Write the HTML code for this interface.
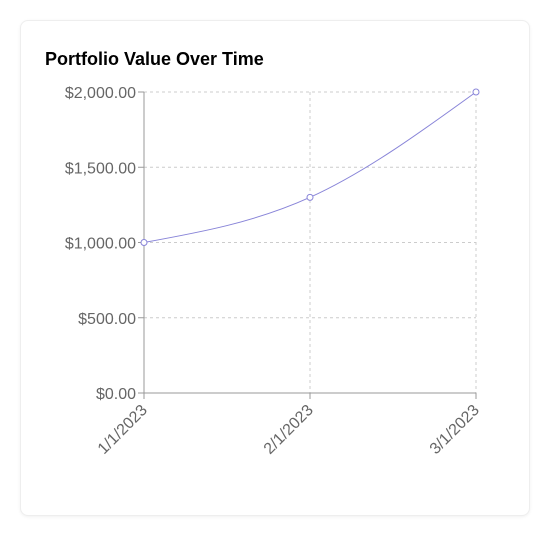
<!DOCTYPE html>
<html><head><meta charset="utf-8"><style>
html,body{margin:0;padding:0;background:#fff;width:550px;height:550px;overflow:hidden;font-family:"Liberation Sans",sans-serif}
.card{position:absolute;left:20px;top:20px;width:508px;height:494px;border:1px solid #eee;border-radius:8px;box-shadow:0 1px 3px rgba(0,0,0,0.06);background:#fff}
.title{position:absolute;left:24px;top:28px;font-size:18px;font-weight:bold;color:#000}
svg{position:absolute;left:0;top:0}
</style></head><body>
<div class="card"><div class="title">Portfolio Value Over Time</div></div>
<svg id="c" width="550" height="550"></svg>
<script>
const categories=["1/1/2023","2/1/2023","3/1/2023"];
const values=[1000,1300,2000];
const yTicks=[0,500,1000,1500,2000];
const svg=document.getElementById('c');const NS='http://www.w3.org/2000/svg';
const X0=144,X1=476,Y0=393,Y1=92,YMAX=2000;
const xs=i=>X0+(X1-X0)*i/(categories.length-1);
const ys=v=>Y0-(Y0-Y1)*v/YMAX;
function el(t,a,p){const e=document.createElementNS(NS,t);for(const k in a)e.setAttribute(k,a[k]);(p||svg).appendChild(e);return e;}
const fmt=v=>'$'+v.toLocaleString('en-US',{minimumFractionDigits:2,maximumFractionDigits:2});
yTicks.forEach(v=>{const y=ys(v);
 if(v>0){const g=el('line',{x1:X0,x2:X1,y1:y,y2:y,stroke:'#ccc','stroke-dasharray':'3 3'});}
 el('line',{x1:X0-6,x2:X0,y1:y,y2:y,stroke:'#999'});
 const t=el('text',{x:X0-8,y:y+6,'text-anchor':'end','font-size':16,fill:'#666'});t.textContent=fmt(v);
 });
categories.forEach((c,i)=>{const x=xs(i);
 if(i>0){const g=el('line',{x1:x,x2:x,y1:Y1,y2:Y0,stroke:'#ccc','stroke-dasharray':'3 3'});}
 el('line',{x1:x,x2:x,y1:Y0,y2:Y0+6,stroke:'#999'});
 const t=el('text',{x:x+4,y:Y0+18,'text-anchor':'end','font-size':16,fill:'#666',transform:`rotate(-45 ${x+4} ${Y0+18})`});t.textContent=c;
 });
const ax=el('line',{x1:X0,x2:X0,y1:Y1,y2:Y0,stroke:'#999'});
const bx=el('line',{x1:X0,x2:X1,y1:Y0,y2:Y0,stroke:'#999'});
const P=values.map((v,i)=>[xs(i),ys(v)]);const n=P.length;
const d=[],m=[];for(let i=0;i<n-1;i++)d.push((P[i+1][1]-P[i][1])/(P[i+1][0]-P[i][0]));
for(let i=0;i<n;i++){if(i==0||i==n-1)m.push(0);else m.push(d[i-1]*d[i]<=0?0:(d[i-1]+d[i])/2);}
m[0]=(3*d[0]-m[1])/2;m[n-1]=(3*d[n-2]-m[n-2])/2;
let path=`M${P[0][0]},${P[0][1]}`;
for(let i=0;i<n-1;i++){const h=(P[i+1][0]-P[i][0])/3;path+=`C${P[i][0]+h},${P[i][1]+h*m[i]} ${P[i+1][0]-h},${P[i+1][1]-h*m[i+1]} ${P[i+1][0]},${P[i+1][1]}`;}
const ln=el('path',{d:path,fill:'none',stroke:'#8884d8','stroke-width':1});
P.forEach(p=>{const c=el('circle',{cx:p[0],cy:p[1],r:3,fill:'#fff',stroke:'#8884d8'});});
</script>
</body></html>
